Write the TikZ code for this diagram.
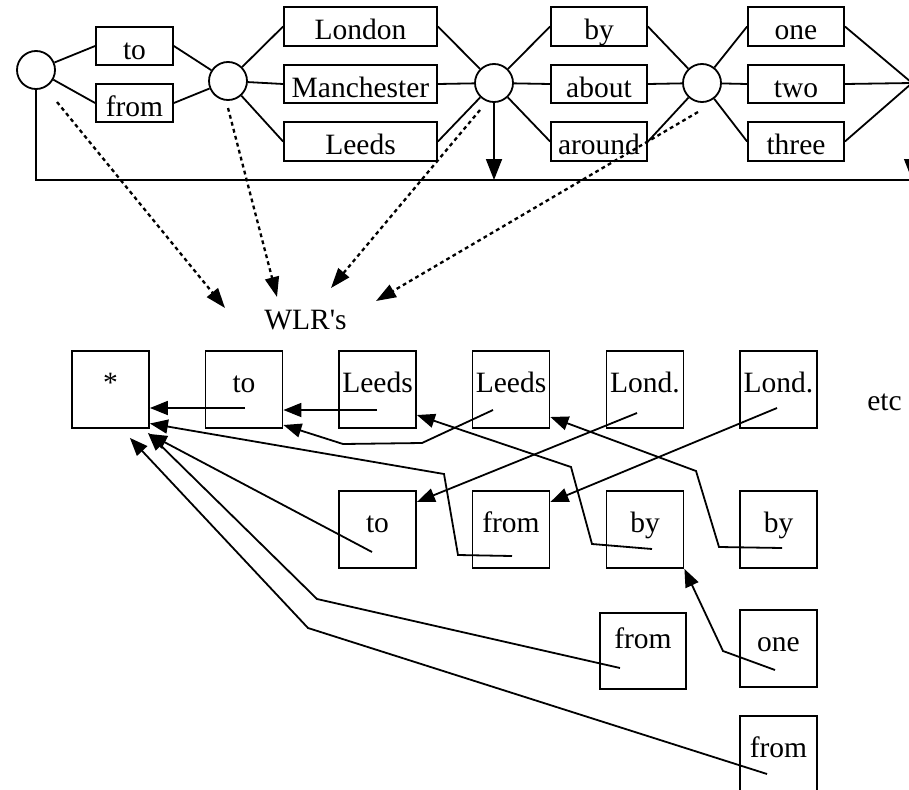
\documentclass[tikz,border=0pt]{standalone}
\usepackage{fontspec}
\setmainfont{Liberation Serif}
\usetikzlibrary{arrows.meta}
\newcommand{\straightquote}{\XeTeXglyph\the\XeTeXcharglyph"0027\relax}
\begin{document}
\begin{tikzpicture}[x=1pt,y=-1pt,
  every node/.style={font=\fontsize{29.5}{34}\selectfont},
  lw/.style={line width=1.8pt},
  circ/.style={draw,lw,circle,inner sep=0pt,minimum size=38pt},
  tbox/.style={draw,lw,inner sep=0pt,minimum height=38.5pt,text height=27pt,text depth=0.5pt},
  bbox/.style={draw,lw,inner sep=0pt,minimum width=77pt,minimum height=77pt,text height=20pt,text depth=15pt},
  arrtop/.style={lw,-{Triangle[length=21pt,width=16pt]}},
  arrdot/.style={line width=2.3pt,dash pattern=on 3.8pt off 3.4pt,-{Triangle[length=20pt,width=14pt]}},
  arrbot/.style={lw,-{Triangle[length=18pt,width=14pt]}},
  lbl/.style={inner sep=0pt,anchor=base}
]
\useasboundingbox (0,0) rectangle (909,789);
\clip (0,0) rectangle (909,789);

% ---------- top network ----------
\node[circ] (A) at (36,70) {};
\node[circ] (B) at (228,81) {};
\node[circ] (C) at (494,83) {};
\node[circ] (D) at (702,83) {};
\node[circ] (E) at (932,83) {};

\node[tbox,minimum width=77pt] (to) at (134.5,46) {to};
\node[tbox,minimum width=77pt] (from) at (134.5,103) {from};
\node[tbox,minimum width=153pt] (london) at (360.5,26.5) {London};
\node[tbox,minimum width=153pt] (manch) at (360.5,84) {Manchester};
\node[tbox,minimum width=153pt] (leeds) at (360.5,141.5) {Leeds};
\node[tbox,minimum width=96pt] (by) at (599,26.5) {by};
\node[tbox,minimum width=96pt] (about) at (599,84) {about};
\node[tbox,minimum width=96pt] (around) at (599,141.5) {around};
\node[tbox,minimum width=96pt] (one) at (796,26.5) {one};
\node[tbox,minimum width=96pt] (two) at (796,84) {two};
\node[tbox,minimum width=96pt] (three) at (796,141.5) {three};

\draw[lw] (A) -- (to.west);
\draw[lw] (A) -- (from.west);
\draw[lw] (to.east) -- (B);
\draw[lw] (from.east) -- (B);
\draw[lw] (B) -- (london.west);
\draw[lw] (B) -- (manch.west);
\draw[lw] (B) -- (leeds.west);
\draw[lw] (london.east) -- (C);
\draw[lw] (manch.east) -- (C);
\draw[lw] (leeds.east) -- (C);
\draw[lw] (C) -- (by.west);
\draw[lw] (C) -- (about.west);
\draw[lw] (C) -- (around.west);
\draw[lw] (by.east) -- (D);
\draw[lw] (about.east) -- (D);
\draw[lw] (around.east) -- (D);
\draw[lw] (D) -- (one.west);
\draw[lw] (D) -- (two.west);
\draw[lw] (D) -- (three.west);
\draw[lw] (one.east) -- (E.west);
\draw[lw] (two.east) -- (E.west);
\draw[lw] (three.east) -- (E.west);

\coordinate (lineR) at (912,180);
\draw[lw] (A.south) |- (lineR);
\draw[arrtop] (C.south) -- (C.south |- lineR);
\draw[arrtop] (E.west) -- (E.west |- lineR);

% ---------- WLR label and dotted arrows ----------
\node[lbl] (wlr) at (305.5,329) {WLR\straightquote s};
\node[lbl] (etc) at (884.5,410) {etc};

\coordinate (dA) at (57,102);  \coordinate (tA) at (225,308);
\coordinate (dB) at (228,108); \coordinate (tB) at (277,297);
\coordinate (dC) at (480,110); \coordinate (tC) at (331,288);
\coordinate (dD) at (698,112); \coordinate (tD) at (376,301);
\draw[arrdot] (dA) -- (tA);
\draw[arrdot] (dB) -- (tB);
\draw[arrdot] (dC) -- (tC);
\draw[arrdot] (dD) -- (tD);

% ---------- WLR boxes ----------
\node[bbox] (star) at (110.5,389.5) {*};
\node[bbox] (toA) at (244,389.5) {to};
\node[bbox] (leedsA) at (377.5,389.5) {Leeds};
\node[bbox] (leedsB) at (511,389.5) {Leeds};
\node[bbox] (londA) at (645,389.5) {Lond.};
\node[bbox] (londB) at (778.5,389.5) {Lond.};
\node[bbox] (toB) at (377.5,529.5) {to};
\node[bbox] (fromA) at (511,529.5) {from};
\node[bbox] (byA) at (645,529.5) {by};
\node[bbox] (byB) at (778.5,529.5) {by};
\node[bbox,minimum width=86pt,minimum height=76pt,text height=15pt,text depth=20pt] (fromB) at (643,651) {from};
\node[bbox] (one2) at (778.5,648.5) {one};
\node[bbox] (fromC) at (778.5,754.5) {from};

% start points and bends
\coordinate (s1) at (245,408);
\coordinate (s2) at (377,410);
\coordinate (s3) at (493,410); \coordinate (b3a) at (422,443); \coordinate (b3b) at (343,444);
\coordinate (s4) at (637,413);
\coordinate (s5) at (777,408);
\coordinate (s6) at (652,549); \coordinate (b6a) at (592,544); \coordinate (b6b) at (571,467);
\coordinate (s7) at (782,548); \coordinate (b7a) at (719,547); \coordinate (b7b) at (696,471);
\coordinate (s8) at (512,556); \coordinate (b8a) at (458,555); \coordinate (b8b) at (444,474);
\coordinate (s9) at (372,552);
\coordinate (s10) at (620,668); \coordinate (b10) at (317,599);
\coordinate (s11) at (767,774); \coordinate (b11) at (308,628);
\coordinate (s12) at (775,670); \coordinate (b12) at (723,651);

\draw[arrbot] (s1) -- ([yshift=-18.5pt]star.east);
\draw[arrbot] (s2) -- ([yshift=-20.5pt]toA.east);
\draw[arrbot] (s3) -- (b3a) -- (b3b) -- ([yshift=-35.5pt]toA.east);
\draw[arrbot] (s4) -- ([yshift=27.5pt]toB.east);
\draw[arrbot] (s5) -- ([yshift=27.5pt]fromA.east);
\draw[arrbot] (s6) -- (b6a) -- (b6b) -- ([yshift=-25.5pt]leedsA.east);
\draw[arrbot] (s7) -- (b7a) -- (b7b) -- ([yshift=-27.5pt]leedsB.east);
\draw[arrbot] (s8) -- (b8a) -- (b8b) -- ([yshift=-34pt]star.east);
\draw[arrbot] (s9) -- ([shift={(-1pt,-5pt)}]star.south east);
\draw[arrbot] (s10) -- (b10) -- ([shift={(-2pt,-4pt)}]star.south east);
\draw[arrbot] (s11) -- (b11) -- ([shift={(-20pt,-9pt)}]star.south east);
\draw[arrbot] (s12) -- (b12) -- (byA.south east);
\end{tikzpicture}
\end{document}
